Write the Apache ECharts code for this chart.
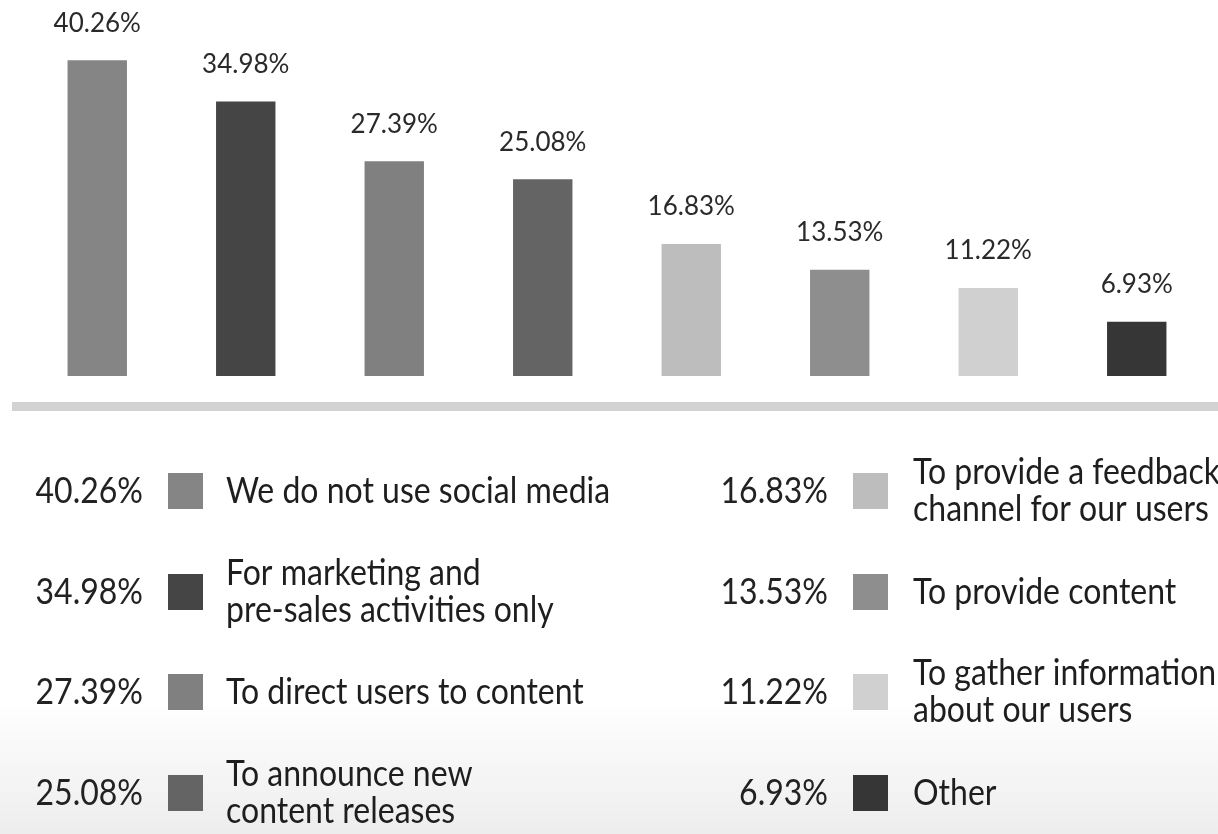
<!DOCTYPE html>
<html>
<head>
<meta charset="utf-8">
<script src="https://cdn.jsdelivr.net/npm/echarts@6/dist/echarts.min.js"></script>
<style>
  html, body { margin: 0; padding: 0; background: #ffffff; }
  #chart { width: 1218px; height: 834px; }
</style>
</head>
<body>
<div id="chart"></div>
<script>
// Survey: how social media is used (share of respondents, %)
const categories = [
  'We do not use social media',
  'For marketing and\npre-sales activities only',
  'To direct users to content',
  'To announce new\ncontent releases',
  'To provide a feedback\nchannel for our users',
  'To provide content',
  'To gather information\nabout our users',
  'Other'
];
const shares = [40.26, 34.98, 27.39, 25.08, 16.83, 13.53, 11.22, 6.93];
const colors = ['#858585', '#454545', '#808080', '#646464', '#bdbdbd', '#8e8e8e', '#d0d0d0', '#363636'];

const FONT = 'Lato, "Open Sans", sans-serif';
const fmt = v => v.toFixed(2) + '%';

const chart = echarts.init(document.getElementById('chart'), null, { renderer: 'canvas' });

// Legend block: two columns of four rows (value, swatch, label)
const legendGraphics = [];
const rowY = [491, 592, 692, 793];
const columns = [
  { valueRight: 143, swatchLeft: 168, textLeft: 226 },
  { valueRight: 828, swatchLeft: 853, textLeft: 913 }
];
const TEXT_STRETCH = 1.12;
categories.forEach((name, i) => {
  const col = columns[Math.floor(i / 4)];
  const y = rowY[i % 4];
  legendGraphics.push({
    type: 'text', x: col.valueRight, y: y, scaleY: TEXT_STRETCH,
    style: { text: fmt(shares[i]), font: '32px ' + FONT, fill: '#222', align: 'right', verticalAlign: 'middle' }
  });
  legendGraphics.push({
    type: 'rect', shape: { x: col.swatchLeft, y: y - 18, width: 35, height: 36 },
    style: { fill: colors[i] }
  });
  legendGraphics.push({
    type: 'text', x: col.textLeft, y: y, scaleY: TEXT_STRETCH,
    style: { text: name, font: '32px ' + FONT, lineHeight: 33, fill: '#1e1e1e', align: 'left', verticalAlign: 'middle' }
  });
});

chart.setOption({
  backgroundColor: '#ffffff',
  animation: false,
  grid: { left: 23, right: 7, top: 23, height: 353, containLabel: false },
  xAxis: {
    type: 'category',
    data: categories,
    show: false
  },
  yAxis: {
    type: 'value',
    min: 0,
    max: 45,
    show: false
  },
  graphic: [
    // soft grey fade at the foot of the page
    {
      type: 'rect', z: -10, silent: true,
      shape: { x: 0, y: 700, width: 1218, height: 134 },
      style: {
        fill: new echarts.graphic.LinearGradient(0, 0, 0, 1, [
          { offset: 0, color: '#ffffff' },
          { offset: 1, color: '#ededed' }
        ])
      }
    },
    // baseline band under the bars
    {
      type: 'rect', silent: true,
      shape: { x: 12, y: 402, width: 1206, height: 9 },
      style: { fill: '#d2d2d2' }
    }
  ].concat(legendGraphics),
  series: [{
    type: 'bar',
    data: shares.map((v, i) => ({ value: v, itemStyle: { color: colors[i] } })),
    barWidth: '40%',
    label: {
      show: true,
      position: 'top',
      distance: 24,
      formatter: p => fmt(p.value),
      fontFamily: FONT,
      fontSize: 26,
      color: '#2a2a2a'
    }
  }]
});
</script>
</body>
</html>
